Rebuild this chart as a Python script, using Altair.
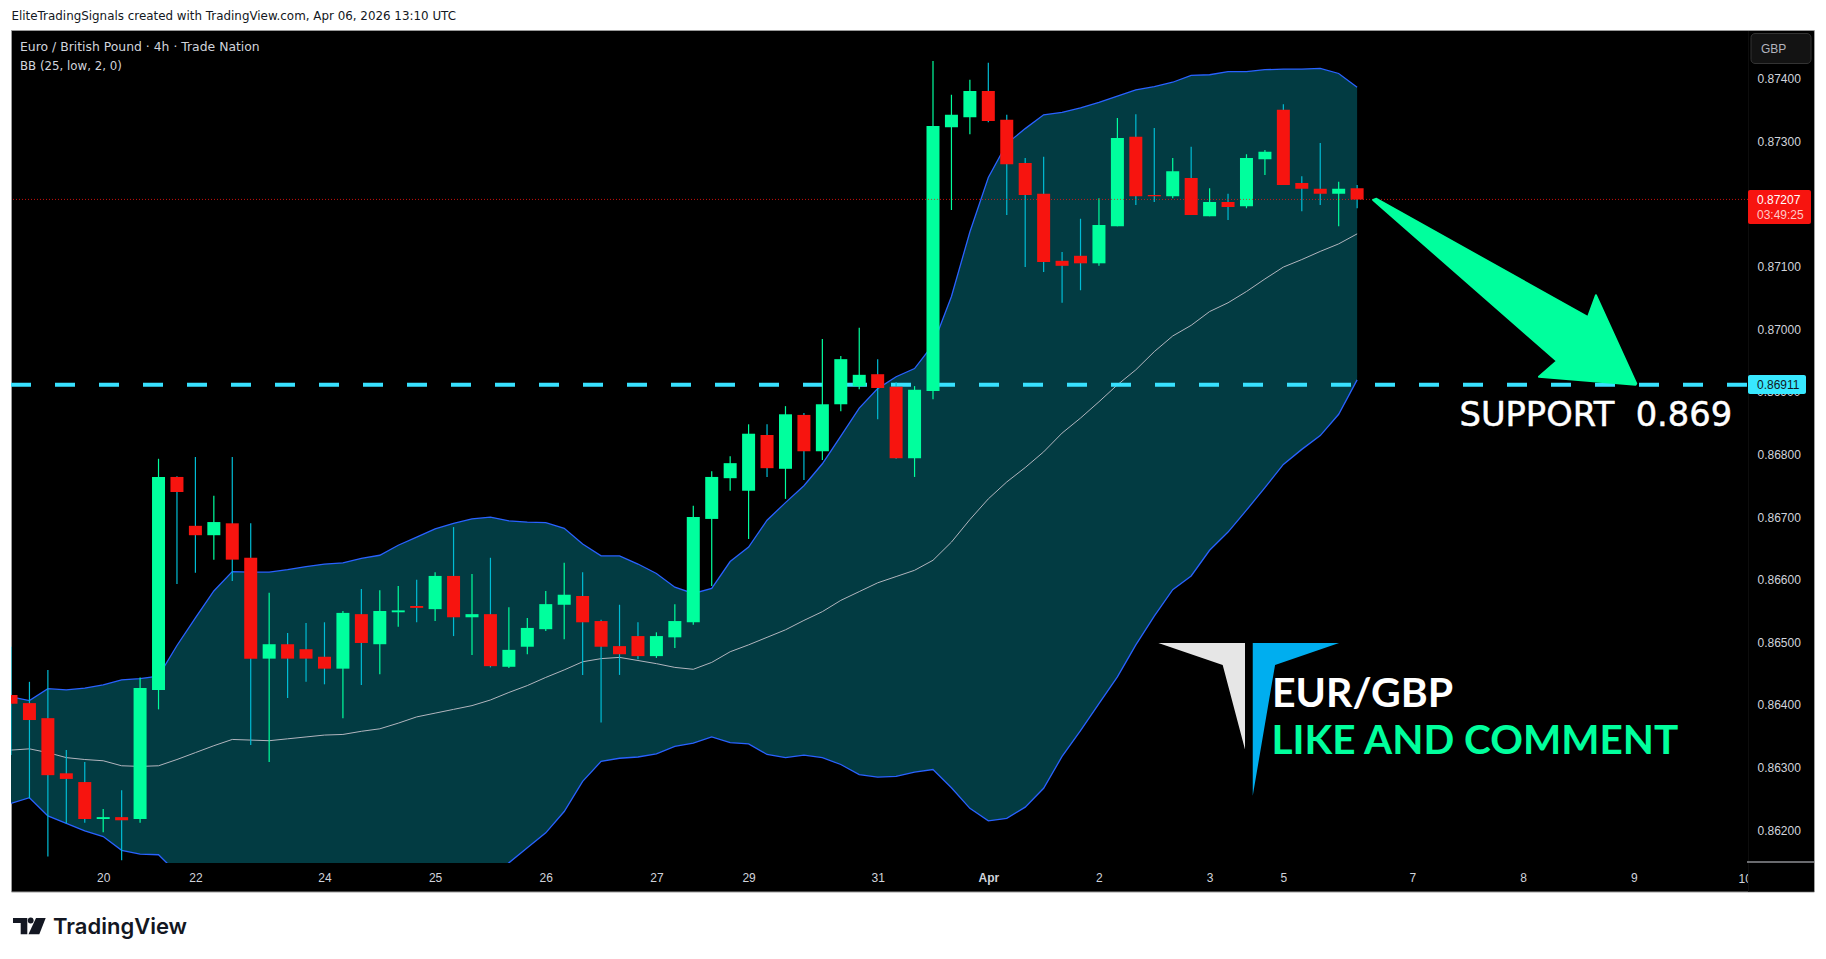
import altair as alt
import pandas as pd

highs = [0.86493, 0.86437, 0.86456, 0.86328, 0.86309, 0.86234, 0.86264, 0.86444, 0.86793, 0.86765, 0.86796, 0.86734, 0.86796, 0.8669, 0.86579, 0.86515, 0.86531, 0.86532, 0.8655, 0.86585, 0.86583, 0.8659, 0.866, 0.86612, 0.86684, 0.86609, 0.86635, 0.86556, 0.86539, 0.86582, 0.86627, 0.86612, 0.86536, 0.8656, 0.86532, 0.86516, 0.86561, 0.86718, 0.86773, 0.86797, 0.86848, 0.86848, 0.86877, 0.86866, 0.86984, 0.86957, 0.87002, 0.86952, 0.86915, 0.86909, 0.87428, 0.87374, 0.87398, 0.87425, 0.87342, 0.87273, 0.87275, 0.87123, 0.87176, 0.87209, 0.87337, 0.87343, 0.87321, 0.87273, 0.87291, 0.87225, 0.87216, 0.87279, 0.87286, 0.87359, 0.87244, 0.87297, 0.87235, 0.8723]
lows = [0.8632, 0.86251, 0.86158, 0.86211, 0.86212, 0.86197, 0.86152, 0.86212, 0.86393, 0.86593, 0.86611, 0.86632, 0.86598, 0.86336, 0.86309, 0.86411, 0.86437, 0.86433, 0.86379, 0.86432, 0.86449, 0.86525, 0.86532, 0.86534, 0.8651, 0.8648, 0.8646, 0.86459, 0.86481, 0.86518, 0.86505, 0.86448, 0.86372, 0.86448, 0.86473, 0.86475, 0.86491, 0.86528, 0.8659, 0.86742, 0.86665, 0.86764, 0.86729, 0.86759, 0.86791, 0.86869, 0.86904, 0.86856, 0.86793, 0.86764, 0.86888, 0.8719, 0.87311, 0.8733, 0.87182, 0.87099, 0.87091, 0.87042, 0.87062, 0.87101, 0.87164, 0.87198, 0.87203, 0.87209, 0.87182, 0.8718, 0.87174, 0.87193, 0.87246, 0.8723, 0.87188, 0.87198, 0.87164, 0.87193]
opens = [0.86416, 0.86403, 0.86379, 0.86291, 0.86277, 0.86218, 0.86221, 0.86218, 0.86424, 0.86764, 0.86686, 0.86671, 0.8669, 0.86635, 0.86474, 0.86497, 0.86489, 0.86477, 0.86458, 0.86545, 0.86497, 0.86548, 0.86558, 0.86553, 0.86606, 0.8654, 0.86545, 0.86461, 0.86493, 0.86521, 0.8656, 0.86574, 0.86534, 0.86494, 0.8651, 0.86478, 0.86508, 0.86532, 0.86697, 0.86762, 0.86742, 0.86831, 0.86777, 0.86863, 0.86805, 0.8688, 0.86909, 0.86928, 0.86908, 0.86794, 0.86901, 0.87322, 0.87338, 0.8738, 0.87334, 0.87265, 0.87216, 0.87109, 0.87117, 0.87105, 0.87164, 0.87307, 0.87214, 0.87212, 0.87241, 0.8718, 0.87203, 0.87196, 0.87271, 0.8735, 0.87233, 0.87224, 0.87216, 0.87225]
closes = [0.86402, 0.86376, 0.86288, 0.86282, 0.86218, 0.86221, 0.86216, 0.86427, 0.86764, 0.8674, 0.86671, 0.86692, 0.86632, 0.86474, 0.86497, 0.86474, 0.86474, 0.86458, 0.86547, 0.86499, 0.8655, 0.86551, 0.86555, 0.86606, 0.8654, 0.86545, 0.86462, 0.86488, 0.86523, 0.86561, 0.86576, 0.86532, 0.86493, 0.86481, 0.86478, 0.8651, 0.86534, 0.867, 0.86764, 0.86786, 0.86833, 0.86778, 0.86864, 0.86805, 0.8688, 0.86952, 0.86927, 0.86906, 0.86794, 0.86903, 0.87324, 0.87342, 0.8738, 0.87332, 0.87263, 0.87214, 0.87107, 0.87101, 0.87105, 0.87166, 0.87305, 0.87212, 0.87212, 0.87252, 0.87182, 0.87203, 0.87195, 0.87273, 0.87283, 0.8723, 0.87224, 0.87216, 0.87224, 0.87207]

bb_upper = [0.86413, 0.86407, 0.86426, 0.86424, 0.86427, 0.86432, 0.8644, 0.86442, 0.86446, 0.86495, 0.86539, 0.86582, 0.86613, 0.86612, 0.86612, 0.86616, 0.86621, 0.86625, 0.86627, 0.86634, 0.86639, 0.86655, 0.86668, 0.86681, 0.8669, 0.86697, 0.867, 0.86694, 0.86692, 0.86691, 0.86682, 0.86657, 0.86638, 0.86638, 0.86625, 0.8661, 0.86588, 0.86578, 0.86586, 0.86629, 0.86652, 0.86695, 0.86723, 0.8675, 0.86785, 0.86829, 0.86874, 0.86905, 0.86924, 0.86937, 0.86975, 0.87052, 0.87155, 0.87242, 0.87296, 0.8732, 0.87342, 0.87346, 0.87353, 0.87362, 0.87372, 0.87382, 0.87387, 0.87394, 0.87405, 0.87406, 0.87411, 0.87411, 0.87414, 0.87415, 0.87415, 0.87416, 0.87408, 0.87386]
bb_mid = [0.86328, 0.8633, 0.86324, 0.86316, 0.86313, 0.86311, 0.86303, 0.86302, 0.86303, 0.86313, 0.86324, 0.86335, 0.86345, 0.86344, 0.86343, 0.86346, 0.86349, 0.86352, 0.86353, 0.86358, 0.86362, 0.86371, 0.86381, 0.86387, 0.86393, 0.86399, 0.86408, 0.8642, 0.86431, 0.86444, 0.86456, 0.86469, 0.86474, 0.86476, 0.86471, 0.86466, 0.8646, 0.86457, 0.86468, 0.86485, 0.86496, 0.86508, 0.8652, 0.86535, 0.86549, 0.86567, 0.86581, 0.86595, 0.86605, 0.86615, 0.86631, 0.8666, 0.86696, 0.86729, 0.86756, 0.86779, 0.86804, 0.86834, 0.86858, 0.86884, 0.86911, 0.86935, 0.86964, 0.86989, 0.87006, 0.87028, 0.87042, 0.8706, 0.8708, 0.87099, 0.87111, 0.87124, 0.87136, 0.87152]
bb_lower = [0.86243, 0.86252, 0.86223, 0.86211, 0.86199, 0.8619, 0.86168, 0.86162, 0.86161, 0.86132, 0.8611, 0.86095, 0.86085, 0.8608, 0.86078, 0.86075, 0.86072, 0.8607, 0.8607, 0.86072, 0.86075, 0.86078, 0.86082, 0.86088, 0.86095, 0.86105, 0.86125, 0.86148, 0.86172, 0.86196, 0.8623, 0.86278, 0.8631, 0.86315, 0.86317, 0.86322, 0.86334, 0.86339, 0.86349, 0.8634, 0.86338, 0.86321, 0.86316, 0.8632, 0.86316, 0.86305, 0.86289, 0.86285, 0.86286, 0.86293, 0.86297, 0.86268, 0.86235, 0.86215, 0.86219, 0.86237, 0.86267, 0.86318, 0.86359, 0.86402, 0.86445, 0.86496, 0.86542, 0.86584, 0.86606, 0.86647, 0.86676, 0.86711, 0.86747, 0.86784, 0.86808, 0.8683, 0.86864, 0.86919]

last_price = 0.87207
support_price = 0.86911

price_ticks = [0.874, 0.873, 0.871, 0.87, 0.868, 0.867, 0.866, 0.865, 0.864, 0.863, 0.862]
day_bars = [5, 10, 17, 23, 29, 35, 40, 47, 53, 59, 65, 69, 76, 82, 88]
day_labels = ["20", "22", "24", "25", "26", "27", "29", "31", "Apr", "2", "3", "5", "7", "8", "9"]

arrow_bars = [73.87, 74.05, 85.52, 85.95, 88.14, 88.1, 82.86, 83.84]
arrow_prices = [0.87206, 0.87208, 0.87019, 0.87054, 0.86913, 0.86911, 0.86924, 0.86949]
wing_left_bars = [62.22, 66.92, 66.92, 65.71]
wing_left_prices = [0.86499, 0.86499, 0.86329, 0.86464]
wing_right_bars = [67.34, 72.02, 68.55, 67.34]
wing_right_prices = [0.86499, 0.86499, 0.86464, 0.86255]
tv_t_bars = [0.108, 0.884, 0.884, 0.526, 0.526, 0.108]
tv_t_prices = [0.8606, 0.8606, 0.86034, 0.86034, 0.86052, 0.86052]
tv_slash_bars = [1.356, 1.882, 1.535, 0.949]
tv_slash_prices = [0.8606, 0.8606, 0.86034, 0.86034]

FONT = "Liberation Sans"
BAR_SPACE = 18.44
WIDTH, HEIGHT = 1737, 832.5

candles = pd.DataFrame(
    {"bar": range(len(highs)), "high": highs, "low": lows, "open": opens, "close": closes,
     "upper": bb_upper, "mid": bb_mid, "lower": bb_lower}
)
one_row = pd.DataFrame({"bar": [0]})

x_scale = alt.Scale(domain=[0, WIDTH / BAR_SPACE], nice=False, zero=False, padding=0)
y_scale = alt.Scale(domain=[0.861478, 0.874766], nice=False, zero=False)

label_lookup = dict(zip(map(str, day_bars), day_labels))
x_axis = alt.Axis(
    values=day_bars,
    labelExpr=f"{label_lookup}[datum.value]",
    labelFontWeight={"condition": {"test": "datum.value == 53", "value": "bold"}, "value": "normal"},
    labelColor="#d1d4dc",
    labelFont=FONT,
    labelFontSize=12,
    labelPadding=9,
    labelOverlap=False,
    labelFlush=False,
    domain=False,
    ticks=False,
    grid=False,
    zindex=1,
)
y_axis = alt.Axis(
    orient="right",
    values=price_ticks,
    format=".5f",
    labelColor="#d1d4dc",
    labelFont=FONT,
    labelFontSize=12,
    labelPadding=9,
    labelOverlap=False,
    labelFlush=False,
    domain=False,
    ticks=False,
    grid=False,
    zindex=1,
)
X = alt.X("bar:Q", scale=x_scale, axis=x_axis, title=None)
Y_HIGH = alt.Y("high:Q", scale=y_scale, axis=y_axis, title=None)


def y_of(field):
    return alt.Y(f"{field}:Q", scale=y_scale, axis=y_axis, title=None)


def note(text, x, y, color="#d1d4dc", size=12, font=FONT, weight="normal", baseline="middle", **extra):
    # x and y are pixels inside the plot area
    return (
        alt.Chart(one_row)
        .mark_text(text=text, color=color, fontSize=size, font=font, fontWeight=weight, align="left", baseline=baseline, **extra)
        .encode(x=alt.value(x), y=alt.value(y))
    )


def box(x, x2, y, y2, fill, stroke=None, radius=0):
    style = {"fill": fill, "cornerRadius": radius}
    if stroke:
        style.update(stroke=stroke, strokeWidth=1)
    return (
        alt.Chart(one_row)
        .mark_rect(**style)
        .encode(x=alt.value(x), x2=alt.value(x2), y=alt.value(y), y2=alt.value(y2))
    )


def polygon(bars, prices, color, edge=0.0):
    shape = pd.DataFrame({"bar": bars, "price": prices, "n": range(len(bars))})
    return (
        alt.Chart(shape)
        .mark_line(fill=color, stroke=color, strokeWidth=edge, strokeJoin="round", interpolate="linear-closed")
        .encode(x=X, y=y_of("price"), order=alt.Order("n:Q"))
    )


frame = box(0.5, 1803.3, 0, 861.5, "#000000", stroke="#9a9a9a")
pane_right = box(1737, 1737.6, 0.5, 861, "#161616")

band = alt.Chart(candles).mark_area(color="#023b42", clip=True).encode(x=X, y=y_of("upper"), y2=alt.Y2("lower:Q"))
mid_line = alt.Chart(candles).mark_line(color="#b2b5be", strokeWidth=1, clip=True).encode(x=X, y=y_of("mid"))
upper_line = alt.Chart(candles).mark_line(color="#2962ff", strokeWidth=1.3, clip=True).encode(x=X, y=y_of("upper"))
lower_line = alt.Chart(candles).mark_line(color="#2962ff", strokeWidth=1.3, clip=True).encode(x=X, y=y_of("lower"))

support_line = (
    alt.Chart(pd.DataFrame({"price": [support_price]}))
    .mark_rule(color="#38e1ff", strokeWidth=4, strokeDash=[20, 24], strokeDashOffset=43)
    .encode(y=y_of("price"))
)
wicks = (
    alt.Chart(candles)
    .mark_rule(strokeWidth=1.2, clip=True)
    .encode(
        x=X,
        y=Y_HIGH,
        y2=alt.Y2("low:Q"),
        color=alt.condition("datum.close >= datum.open", alt.value("#00ff9d"), alt.value("#00bcd4")),
    )
)
bodies = (
    alt.Chart(candles)
    .mark_bar(size=13, clip=True)
    .encode(
        x=X,
        y=y_of("open"),
        y2=alt.Y2("close:Q"),
        color=alt.condition("datum.close >= datum.open", alt.value("#00ff9d"), alt.value("#f7140f")),
    )
)
last_line = (
    alt.Chart(pd.DataFrame({"price": [last_price]}))
    .mark_rule(color="#f7140f", strokeWidth=1, strokeDash=[1, 2], opacity=0.8)
    .encode(y=y_of("price"))
)

arrow = polygon(arrow_bars, arrow_prices, "#00ff9d", edge=2)
wing_left = polygon(wing_left_bars, wing_left_prices, "#e6e6e6")
wing_right = polygon(wing_right_bars, wing_right_prices, "#00aeef")
tv_t = polygon(tv_t_bars, tv_t_prices, "#131722")
tv_slash = polygon(tv_slash_bars, tv_slash_prices, "#131722")
tv_dot = (
    alt.Chart(pd.DataFrame({"bar": [1.068], "price": [0.86056]}))
    .mark_circle(color="#131722", size=34, opacity=1)
    .encode(x=X, y=y_of("price"))
)

chart = (
    alt.layer(
        frame,
        band,
        mid_line,
        upper_line,
        lower_line,
        support_line,
        wicks,
        bodies,
        last_line,
        note("10", 1727.5, 848),
        box(1737, 1803, 1, 861, "#000000"),
        pane_right,
        box(1736, 1803, 831, 832, "#d1d4dc"),
        note("0.86900", 1746, 361.5),
        box(1737, 1795, 344.5, 363.5, "#38e8ff", radius=2),
        note("0.86911", 1746, 354, color="#131722"),
        box(1737, 1800, 159.5, 193.5, "#f7140f", radius=2),
        note("0.87207", 1746, 169.5, color="#ffffff"),
        note("03:49:25", 1746, 184, color="#ffc9c7"),
        box(1740, 1800, 3, 33, "#131313", stroke="#333333", radius=4),
        note("GBP", 1750, 18, color="#b2b5be"),
        arrow,
        note("SUPPORT\u00a0 0.869", 1448.5, 395.5, color="#ffffff", size=33.7, font="DejaVu Sans", baseline="alphabetic", stroke="#ffffff", strokeWidth=0.5),
        wing_left,
        wing_right,
        note("EUR/GBP", 1261, 676.2, color="#ffffff", size=41, font="Lato", weight="bold", baseline="alphabetic"),
        note("LIKE AND COMMENT", 1260.5, 723.5, color="#00ff9d", size=40.5, font="Lato", weight="bold", baseline="alphabetic"),
        note("Euro / British Pound \u00b7 4h \u00b7 Trade Nation", 9, 16.2, font="DejaVu Sans", size=12.4),
        note("BB (25, low, 2, 0)", 9, 35.2, font="DejaVu Sans", size=11.8),
        note("EliteTradingSignals created with TradingView.com, Apr 06, 2026 13:10 UTC", 0.5, -14.2, color="#131722", font="DejaVu Sans", size=11.9),
        tv_t,
        tv_slash,
        tv_dot,
        note("TradingView", 42, 903.5, color="#131722", size=22, font="Inter", weight=600, baseline="alphabetic"),
    )
    .properties(
        width=WIDTH,
        height=HEIGHT,
        background="#ffffff",
        padding={"left": 3, "top": 22.5, "right": 70, "bottom": 80},
        autosize=alt.AutoSizeParams(type="none"),
    )
    .configure_view(stroke=None)
)

chart.save("out.html", embed_options={"renderer": "svg", "actions": False})
